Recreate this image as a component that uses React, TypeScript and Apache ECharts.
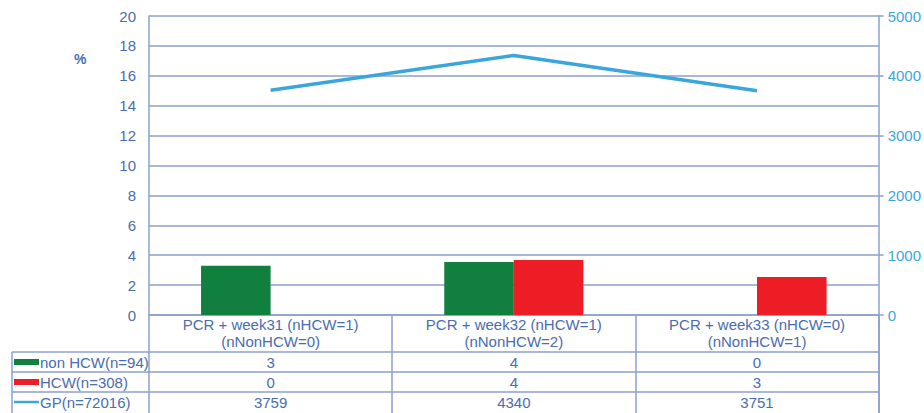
import React, { useEffect, useRef } from "react";
import * as echarts from "echarts";

const categories = [
  "PCR + week31 (nHCW=1)\n(nNonHCW=0)",
  "PCR + week32 (nHCW=1)\n(nNonHCW=2)",
  "PCR + week33 (nHCW=0)\n(nNonHCW=1)",
];
const nonHcwPct = [3.3, 3.55, 0];
const hcwPct = [0, 3.68, 2.54];
const gpValues = [3759, 4340, 3751];

const rowLabels = ["non HCW(n=94)", "HCW(n=308)", "GP(n=72016)"];
const nonHcwCounts = [3, 4, 0];
const hcwCounts = [0, 4, 3];
const gpCounts = [3759, 4340, 3751];

const leftTicks = { min: 0, max: 20, interval: 2 };
const rightTicks = { min: 0, max: 5000, interval: 1000 };

const GREEN = "#11803f";
const RED = "#ec1d24";
const BLUE = "#3ba6dc";
const TXT = "#4a6cb0";
const GRIDC = "#8c9fcc";
const FONT = "Liberation Sans, Arial, sans-serif";

export default function App() {
  const ref = useRef<HTMLDivElement>(null);
  useEffect(() => {
    if (!ref.current) return;
    const chart = echarts.init(ref.current, null, { renderer: "svg" });
    const gridLeft = 149;
    const gridRight = 45;
    const gridTop = 16;
    const gridBottom = 98;
    chart.setOption({
      animation: false,
      textStyle: { fontFamily: FONT },
      grid: { left: gridLeft, right: gridRight, top: gridTop, bottom: gridBottom },
      xAxis: {
        type: "category",
        data: categories,
        axisLine: { show: true, lineStyle: { color: GRIDC, width: 1.5 } },
        axisTick: { show: true, length: 98, lineStyle: { color: GRIDC, width: 1.5 } },
        axisLabel: { color: TXT, fontSize: 15, lineHeight: 17, margin: 1, fontFamily: FONT },
      },
      yAxis: [
        {
          type: "value",
          ...leftTicks,
          axisLine: { show: true, lineStyle: { color: GRIDC, width: 1.5 } },
          axisTick: { show: false },
          splitLine: { show: true, lineStyle: { color: GRIDC, width: 1.5 } },
          axisLabel: { color: TXT, fontSize: 15, margin: 13, fontFamily: FONT },
        },
        {
          type: "value",
          ...rightTicks,
          position: "right",
          axisLine: { show: true, lineStyle: { color: GRIDC, width: 1.5 } },
          axisTick: { show: true, length: 5, lineStyle: { color: GRIDC, width: 1.5 } },
          splitLine: { show: false },
          axisLabel: {
            color: BLUE,
            fontSize: 15,
            margin: 9,
            fontFamily: FONT,
            formatter: (v: number) => String(v),
          },
        },
      ],
      series: [
        {
          name: rowLabels[0],
          type: "bar",
          data: nonHcwPct,
          itemStyle: { color: GREEN },
          barWidth: "28.6%",
          barGap: "0%",
        },
        {
          name: rowLabels[1],
          type: "bar",
          data: hcwPct,
          itemStyle: { color: RED },
          barWidth: "28.6%",
          barGap: "0%",
        },
        {
          name: rowLabels[2],
          type: "line",
          yAxisIndex: 1,
          data: gpValues,
          symbol: "none",
          lineStyle: { color: BLUE, width: 3.5 },
          itemStyle: { color: BLUE },
        },
      ],
    });

    const W = 924;
    const plotRight = W - gridRight;
    const tableLeft = 12;
    const rowTops = [352, 372, 392];
    const rowH = 20;
    const centers = categories.map((_, i) => chart.convertToPixel({ xAxisIndex: 0 }, i) as number);
    const rowsData = [nonHcwCounts, hcwCounts, gpCounts];
    const lineStyle = { stroke: GRIDC, lineWidth: 1.5 };
    const elements: any[] = [];
    elements.push({
      type: "text",
      left: 74,
      top: 52,
      style: { text: "%", fill: TXT, font: `bold 14px ${FONT}` },
    });
    rowTops.forEach((y) => {
      elements.push({ type: "line", shape: { x1: tableLeft, y1: y, x2: plotRight, y2: y }, style: lineStyle });
    });
    elements.push({ type: "line", shape: { x1: tableLeft, y1: rowTops[0], x2: tableLeft, y2: 413 }, style: lineStyle });
    elements.push({ type: "line", shape: { x1: plotRight, y1: 413 - gridBottom, x2: plotRight, y2: 413 }, style: lineStyle });
    rowLabels.forEach((lab, r) => {
      const cy = rowTops[r] + rowH / 2;
      if (r < 2) {
        elements.push({
          type: "rect",
          shape: { x: 14, y: cy - 3, width: 25, height: 6 },
          style: { fill: r === 0 ? GREEN : RED },
        });
      } else {
        elements.push({
          type: "line",
          shape: { x1: 14, y1: cy, x2: 39, y2: cy },
          style: { stroke: BLUE, lineWidth: 2.5 },
        });
      }
      elements.push({
        type: "text",
        x: 40,
        y: cy,
        style: { text: lab, fill: TXT, font: `15px ${FONT}`, verticalAlign: "middle" },
      });
      rowsData[r].forEach((v, i) => {
        elements.push({
          type: "text",
          x: centers[i],
          y: cy,
          style: {
            text: String(v),
            fill: TXT,
            font: `15px ${FONT}`,
            align: "center",
            verticalAlign: "middle",
          },
        });
      });
    });
    chart.setOption({ graphic: { elements } });
    return () => chart.dispose();
  }, []);
  return (
    <div
      ref={ref}
      style={{ position: "fixed", left: 0, top: 0, width: 924, height: 413, background: "#fff" }}
    />
  );
}
